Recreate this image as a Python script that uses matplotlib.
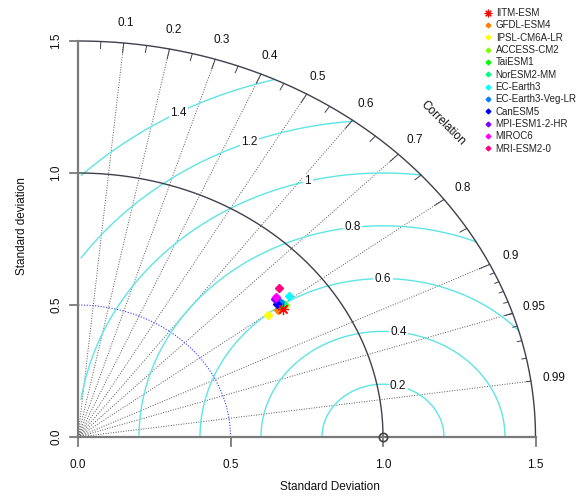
import numpy as np
import matplotlib
matplotlib.use('Agg')
import matplotlib.pyplot as plt

plt.rcParams['font.family'] = ['Liberation Sans', 'DejaVu Sans']

# ---------------- data ----------------
models = ['IITM-ESM', 'GFDL-ESM4', 'IPSL-CM6A-LR', 'ACCESS-CM2', 'TaiESM1',
          'NorESM2-MM', 'EC-Earth3', 'EC-Earth3-Veg-LR', 'CanESM5',
          'MPI-ESM1-2-HR', 'MIROC6', 'MRI-ESM2-0']
model_sd = [0.827, 0.813, 0.776, 0.843, 0.833, 0.839, 0.875, 0.838, 0.825,
            0.830, 0.839, 0.867]
model_cor = [0.811, 0.806, 0.804, 0.805, 0.802, 0.801, 0.792, 0.792, 0.791,
             0.777, 0.774, 0.760]
ref_sd = 1.0
max_sd = 1.5
cor_lines = [0.1, 0.2, 0.3, 0.4, 0.5, 0.6, 0.7, 0.8, 0.9, 0.95, 0.99]
cor_labels = ['0.1', '0.2', '0.3', '0.4', '0.5', '0.6', '0.7', '0.8', '0.9',
              '0.95', '0.99']
gamma_levels = [0.2, 0.4, 0.6, 0.8, 1.0, 1.2, 1.4]
gamma_labels = ['0.2', '0.4', '0.6', '0.8', '1', '1.2', '1.4']
sd_ticks = [0.0, 0.5, 1.0, 1.5]
sd_ticklabels = ['0.0', '0.5', '1.0', '1.5']
inner_arc = 0.5

# ---------------- style ----------------
colors = ['#FF0000', '#FF8000', '#FFFF00', '#80FF00', '#00FF00', '#00FF80',
          '#00FFFF', '#0080FF', '#0000FF', '#8000FF', '#FF00FF', '#FF0080']
label_idx = np.linspace(45, 70, len(gamma_levels))
gamma_label_angle = (label_idx - 1) * 0.03
fs = 8.5
arc_col = '#40404c'

fig = plt.figure(figsize=(5.76, 4.97), dpi=100)
ax = fig.add_axes([0, 0, 1, 1])
ax.set_xlim(-78 / 305, (576 - 78) / 305)
ax.set_ylim((437 - 497) / 264, 437 / 264)
ax.axis('off')

# correlation lines
for c in cor_lines:
    s = np.sqrt(1 - c ** 2)
    ax.plot([0, max_sd * c], [0, max_sd * s], color='#555555', lw=0.7,
            linestyle=(0, (1, 1.6)), zorder=1)

# inner blue dotted arc
t = np.linspace(0, np.pi / 2, 300)
ax.plot(inner_arc * np.cos(t), inner_arc * np.sin(t), color='#3333ff', lw=0.8,
        linestyle=(0, (1, 1.5)), zorder=2)

# gamma (RMSD) arcs
tt = np.linspace(0.01, np.pi - 0.01, 1500)
for g, lab, ang in zip(gamma_levels, gamma_labels, gamma_label_angle):
    xc = ref_sd + g * np.cos(tt)
    yc = g * np.sin(tt)
    m = (xc >= 0.01) & (xc ** 2 + yc ** 2 <= max_sd ** 2)
    ax.plot(xc[m], yc[m], color='#5fe4e4', lw=1.0, zorder=2)
    ax.text(ref_sd + g * np.cos(ang), g * np.sin(ang), lab, fontsize=fs,
            ha='center', va='center', color='#111111', zorder=3,
            bbox=dict(facecolor='white', edgecolor='none', pad=1.0))

# outer arc and reference arc
t = np.linspace(0, np.pi / 2, 400)
ax.plot(max_sd * np.cos(t), max_sd * np.sin(t), color=arc_col, lw=1.0, zorder=4)
ax.plot(ref_sd * np.cos(t), ref_sd * np.sin(t), color=arc_col, lw=1.0, zorder=4)

# ticks on outer arc
big = np.arange(0.1, 0.91, 0.1)
med = np.arange(0.05, 0.96, 0.1)
sml = np.arange(0.91, 0.995, 0.01)
for arr, f in ((big, 0.975), (med, 0.982), (sml, 0.99)):
    for c in arr:
        a = np.arccos(c)
        ax.plot([np.cos(a) * max_sd, np.cos(a) * f * max_sd],
                [np.sin(a) * max_sd, np.sin(a) * f * max_sd],
                color=arc_col, lw=0.7, zorder=4)

# correlation labels
for c, lab in zip(cor_lines, cor_labels):
    a = np.arccos(c)
    ax.text(np.cos(a) * 1.05 * max_sd, np.sin(a) * 1.05 * max_sd, lab,
            fontsize=fs, ha='center', va='center', color='#111111')
ax.text(1.197, 1.187, 'Correlation', rotation=-45,
        fontsize=fs, ha='center', va='center', color='#111111')

# axes
axcol = '#7a7a7a'
ax.plot([0, max_sd], [0, 0], color=axcol, lw=1.6, zorder=4)
ax.plot([0, 0], [0, max_sd], color=axcol, lw=1.6, zorder=4)
tx = 8 / 305
ty = 9 / 264
for v, lab in zip(sd_ticks, sd_ticklabels):
    ax.plot([v, v], [0, -ty], color=axcol, lw=1.3, zorder=4)
    ax.plot([0, -tx], [v, v], color=axcol, lw=1.3, zorder=4)
    ax.text(v, -0.106, lab, fontsize=fs, ha='center', va='center', color='#111111')
    ax.text(-0.072, v, lab, fontsize=fs, ha='center', va='center',
            rotation=90, color='#111111')
ax.text(0.825, -0.189, 'Standard Deviation', fontsize=fs, ha='center',
        va='center', color='#111111')
ax.text(-0.185, 0.8, 'Standard deviation', fontsize=fs, ha='center',
        va='center', rotation=90, color='#111111')

# reference point
ax.plot([ref_sd], [0], marker='o', ms=6, mfc='none', mec='#444444', mew=1.2,
        zorder=6)

# model points
for i, (name, s, c, col) in enumerate(zip(models, model_sd, model_cor, colors)):
    x = s * c
    y = s * np.sqrt(1 - c ** 2)
    if i == 0:
        ax.plot([x], [y], linestyle='none', marker=(8, 2, 0), ms=8,
                mew=0.9, color=col, zorder=7, label=name)
    else:
        ax.plot([x], [y], linestyle='none', marker='D', ms=4.0,
                color=col, mec=col, zorder=6, label=name)

leg_handles = []
for i, col in enumerate(colors):
    if i == 0:
        lh, = ax.plot([], [], linestyle='none', marker=(8, 2, 0), ms=5.5,
                      mew=0.8, color=col)
    else:
        lh, = ax.plot([], [], linestyle='none', marker='D', ms=2.4, color=col)
    leg_handles.append(lh)
leg = ax.legend(leg_handles, models, loc='upper left',
                bbox_to_anchor=(484 / 576, 1 - 8 / 497), frameon=False,
                fontsize=7, labelspacing=0.24, handlelength=0.8,
                handletextpad=0.4, borderpad=0, borderaxespad=0)
for txt in leg.get_texts():
    txt.set_color('#222222')

fig.savefig('out.png', dpi=100)
